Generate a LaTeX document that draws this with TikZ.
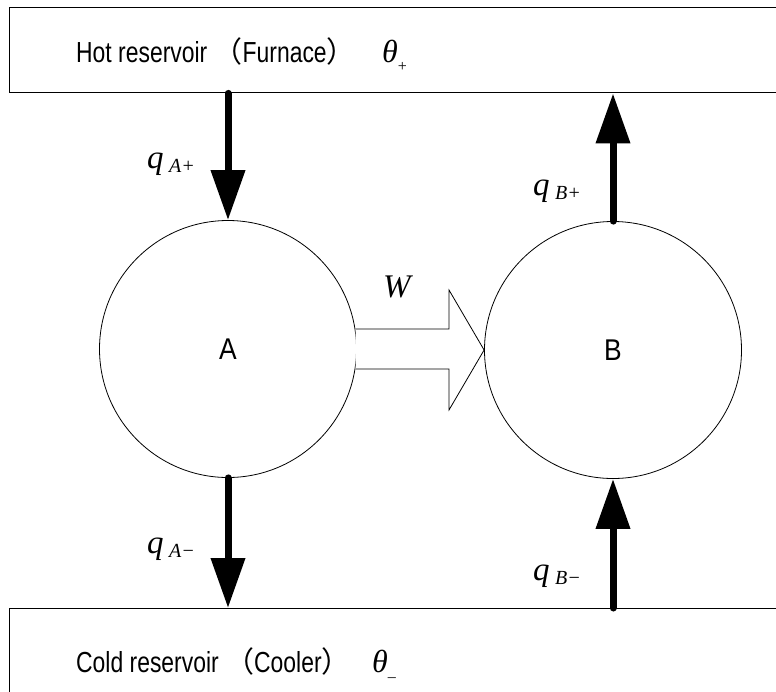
\documentclass[tikz,border=0pt]{standalone}
\usepackage{fontspec}
\setmainfont{Liberation Sans}
\newfontfamily\tms{Liberation Serif}
\newfontfamily\cjk{Noto Sans CJK JP}
\usetikzlibrary{arrows.meta}
\begin{document}
\begin{tikzpicture}[x=1pt,y=-1pt,
  reservoir/.style={draw, line width=1.4pt, rectangle, minimum width=800pt, minimum height=85pt, anchor=north west, inner sep=0pt},
  engine/.style={draw, line width=0.8pt, circle, minimum size=257pt, inner sep=0pt, font=\fontsize{30}{30}\selectfont\addfontfeatures{FakeStretch=0.88}},
  heat/.style={line width=7pt, line cap=round, -{Triangle[length=50pt,width=33pt]}},
  restext/.style={anchor=base west, inner sep=0pt, font=\fontsize{29}{29}\selectfont\addfontfeatures{FakeStretch=0.79}},
  mathlab/.style={anchor=base west, inner sep=0pt, font=\fontsize{33}{33}\selectfont\tms\itshape},
  work/.style={draw, line width=0.8pt, fill=white}
]
\useasboundingbox (0,0) rectangle (776,691);
\clip (0,0) rectangle (776,691);
\fill[white] (0,0) rectangle (776,691);

\node[reservoir] (hot) at (9,7) {};
\node[reservoir] (cold) at (9,608) {};

\node[engine] (A) at (228,349) {A};
\node[engine] (B) at (613,350) {B};

\node[restext] (hottxt) at (76,62) {Hot reservoir {\cjk （}Furnace{\cjk ）}};
\node[restext] (coldtxt) at (76,672) {Cold reservoir {\cjk （}Cooler{\cjk ）}};
\node[mathlab, font=\fontsize{32}{32}\selectfont\tms\itshape] (thp) at (382,62) {θ\raisebox{-9pt}{\fontsize{16}{16}\selectfont\upshape +}};
\node[mathlab, font=\fontsize{32}{32}\selectfont\tms\itshape] (thm) at (372,672) {θ\raisebox{-4pt}{\fontsize{16}{16}\selectfont\upshape \_}};

\coordinate (ha) at (hot.south -| A);
\coordinate (hb) at (hot.south -| B);
\coordinate (ca) at (cold.north -| A);
\coordinate (cb) at (cold.north -| B);

\draw[heat] (ha) -- (A.north);
\draw[heat] (B.north) -- (hb);
\draw[heat] (A.south) -- (ca);
\draw[heat] (cb) -- (B.south);

\node[mathlab] (qap) at (147,168) {q\,\raisebox{-4pt}{\fontsize{20}{20}\selectfont A+}};
\node[mathlab] (qbp) at (533,195) {q\,\raisebox{-4pt}{\fontsize{20}{20}\selectfont B+}};
\node[mathlab] (qam) at (147,553) {q\,\raisebox{-4pt}{\fontsize{20}{20}\selectfont A−}};
\node[mathlab] (qbm) at (533,580) {q\,\raisebox{-4pt}{\fontsize{20}{20}\selectfont B−}};

\draw[work] (355.5,329) -- (449,329) -- (449,290) -- (B.west) -- (449,410) -- (449,369) -- (355.5,369);
\node[mathlab] (W) at (383,297) {W};
\end{tikzpicture}
\end{document}
